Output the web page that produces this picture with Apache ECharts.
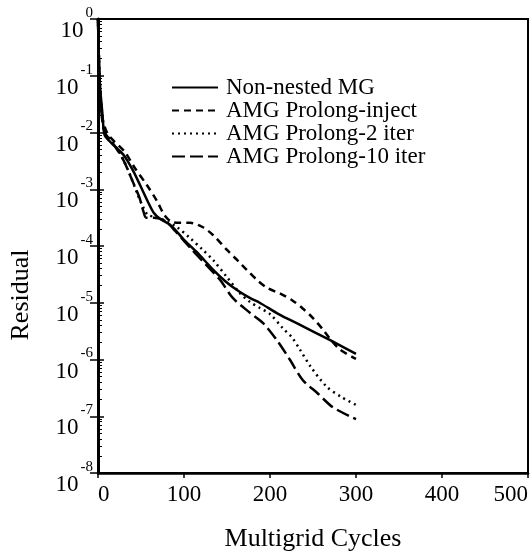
<!DOCTYPE html>
<html>
<head>
<meta charset="utf-8">
<script src="https://cdn.jsdelivr.net/npm/echarts@6/dist/echarts.min.js"></script>
<style>
html,body{margin:0;padding:0;background:#fff;}
#c{width:530px;height:551px;}
</style>
</head>
<body>
<div id="c"></div>
<script>
// Series names
var seriesNames = ['Non-nested MG', 'AMG Prolong-inject', 'AMG Prolong-2 iter', 'AMG Prolong-10 iter'];
// Data as [cycle, log10(residual)]
var nonNested = [[0,0],[2,-1.1],[5,-1.65],[7,-2.0],[9,-2.08],[20,-2.25],[30,-2.4],[40,-2.65],[49,-2.93],[58,-3.22],[65,-3.42],[72,-3.52],[85,-3.64],[100,-3.89],[115,-4.11],[134,-4.42],[148,-4.62],[162,-4.78],[177,-4.92],[188,-5.0],[210,-5.2],[235,-5.39],[270,-5.66],[300,-5.9]];
var inject = [[0,0],[2,-1.15],[4,-1.6],[6,-1.8],[9,-1.95],[14,-2.08],[31,-2.34],[43,-2.63],[57,-2.93],[69,-3.22],[77,-3.45],[85,-3.57],[95,-3.59],[107,-3.59],[122,-3.67],[134,-3.81],[150,-4.07],[162,-4.25],[173,-4.42],[185,-4.6],[197,-4.74],[212,-4.84],[226,-4.96],[238,-5.1],[250,-5.27],[262,-5.48],[270,-5.64],[281,-5.82],[300,-5.99]];
var twoIter = [[0,0],[2,-1.1],[5,-1.7],[8,-2.0],[16,-2.15],[26,-2.38],[36,-2.7],[45,-3.05],[52,-3.3],[58,-3.45],[70,-3.5],[80,-3.57],[92,-3.67],[107,-3.86],[122,-4.07],[134,-4.25],[150,-4.55],[165,-4.83],[177,-4.99],[188,-5.09],[200,-5.2],[215,-5.45],[226,-5.62],[235,-5.83],[247,-6.12],[266,-6.48],[283,-6.66],[300,-6.8]];
var tenIter = [[0,0],[2,-1.2],[5,-1.8],[8,-2.0],[20,-2.25],[30,-2.5],[40,-2.85],[48,-3.14],[53,-3.4],[56,-3.5],[65,-3.5],[78,-3.56],[90,-3.74],[110,-4.08],[125,-4.32],[142,-4.6],[157,-4.92],[177,-5.18],[192,-5.36],[208,-5.66],[223,-6.0],[238,-6.36],[255,-6.59],[273,-6.84],[300,-7.05]];
var xTicks = [0, 100, 200, 300, 400, 500];

function toVals(arr){ return arr.map(function(p){ return [p[0], Math.pow(10, p[1])]; }); }

var FONT = '"Liberation Serif", "Times New Roman", serif';
var chart = echarts.init(document.getElementById('c'), null, {renderer: 'canvas'});
var dashes = ['solid', [7, 5], [2, 4], [13, 5]];
var datas = [nonNested, inject, twoIter, tenIter];
var series = datas.map(function(d, i){
  return {
    name: seriesNames[i], type: 'line', data: toVals(d), showSymbol: false, symbol: 'none',
    smooth: 0.3, yAxisIndex: 0,
    lineStyle: {color: '#000', width: 2.5, type: dashes[i]},
    itemStyle: {color: '#000'}
  };
});
chart.setOption({
  animation: false,
  backgroundColor: '#fff',
  grid: {left: 98, right: 2, top: 19, bottom: 78, outerBoundsMode: 'none', containLabel: false,
    show: true, borderColor: '#000', borderWidth: 2, backgroundColor: 'transparent'},
  legend: {
    show: true,
    orient: 'vertical', left: 166, top: 71, itemWidth: 46, itemHeight: 14, itemGap: 0,
    itemStyle: {opacity: 0},
    textStyle: {fontFamily: FONT, fontSize: 23, lineHeight: 23, color: '#000', padding: [0, 0, 0, 3]},
    data: seriesNames
  },
  xAxis: {
    type: 'value', min: 0, max: 500, interval: 100,
    name: 'Multigrid Cycles', nameLocation: 'middle', nameGap: 53,
    nameTextStyle: {fontFamily: FONT, fontSize: 26, color: '#000'},
    axisLine: {lineStyle: {color: '#000', width: 2.5}},
    axisTick: {show: true, inside: false, length: 5, lineStyle: {color: '#000', width: 1.5}},
    axisLabel: {fontFamily: FONT, fontSize: 23, color: '#000', margin: 10,
      alignMinLabel: 'left', alignMaxLabel: 'right',
      formatter: function(v){ return xTicks.indexOf(v) >= 0 ? String(v) : ''; }},
    splitLine: {show: false}
  },
  yAxis: [{
    type: 'log', logBase: 10, min: 1e-8, max: 1,
    name: 'Residual', nameLocation: 'middle', nameGap: 64,
    nameTextStyle: {fontFamily: FONT, fontSize: 26, color: '#000', padding: [0, 98, 0, 0]},
    axisLine: {lineStyle: {color: '#000', width: 3}},
    axisTick: {show: true, inside: false, length: 8, lineStyle: {color: '#000', width: 1.5}},
    axisLabel: {
      margin: 5,
      formatter: function(v){ var e = Math.round(Math.log10(v)); return '{b|10}{e|' + e + '}'; },
      rich: {
        b: {fontFamily: FONT, fontSize: 23, lineHeight: 23, color: '#000', padding: [24, 2, 0, 0]},
        e: {fontFamily: FONT, fontSize: 15, lineHeight: 15, color: '#000', padding: [0, 0, 12, 0]}
      }
    },
    splitLine: {show: false}
  }, {
    type: 'log', logBase: 10, min: 1e-8, max: 1, position: 'left',
    axisLine: {show: false},
    axisTick: {show: true, inside: true, length: 6, lineStyle: {color: '#000', width: 1.5}},
    minorTick: {show: true, splitNumber: 9, length: 4, lineStyle: {color: '#000', width: 1}},
    axisLabel: {show: false},
    splitLine: {show: false}
  }],
  series: series
});
</script>
</body>
</html>
